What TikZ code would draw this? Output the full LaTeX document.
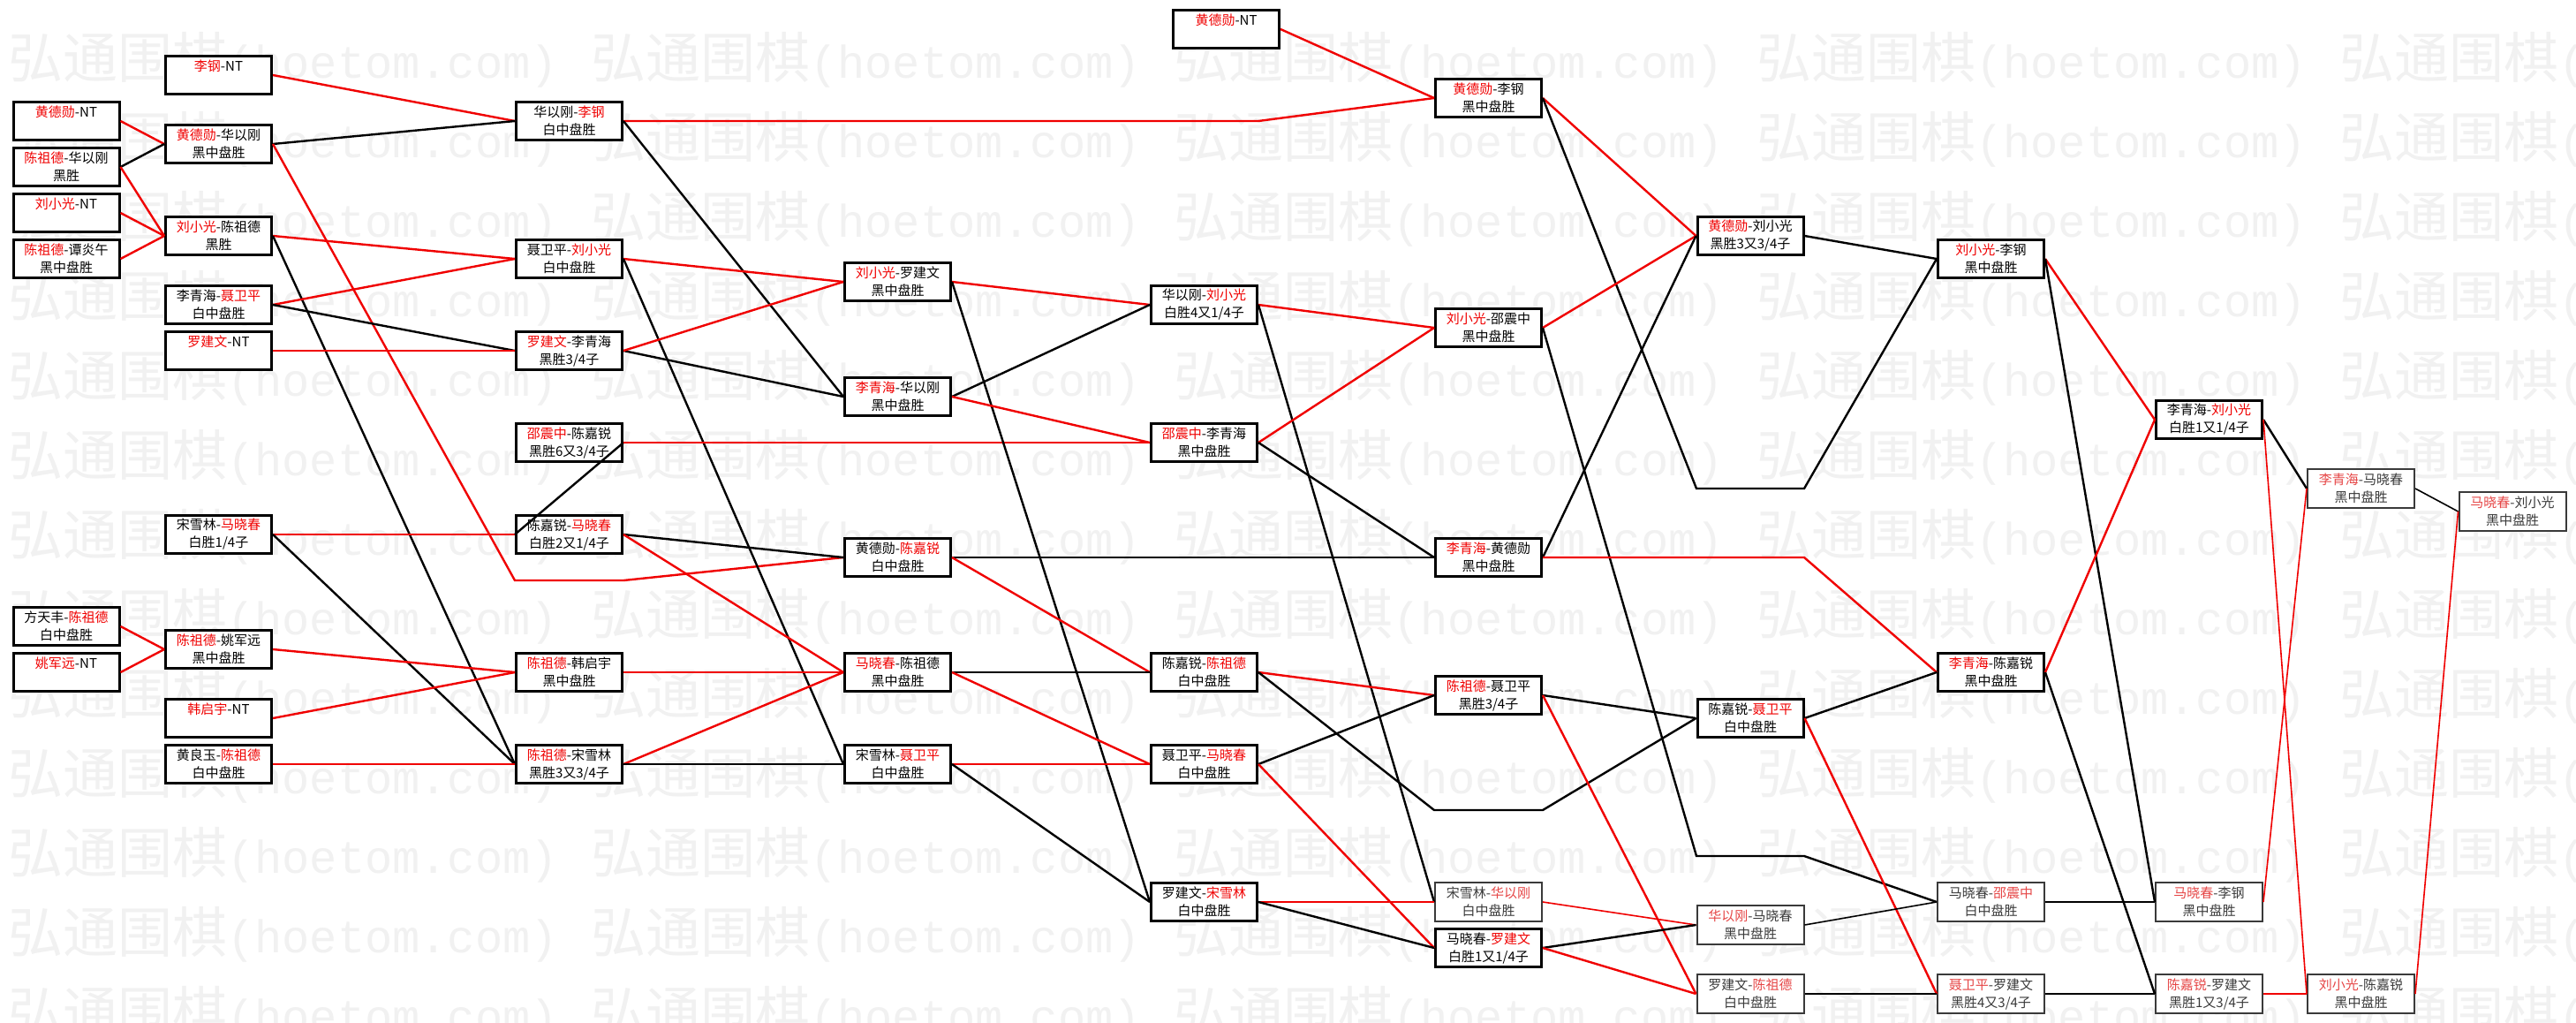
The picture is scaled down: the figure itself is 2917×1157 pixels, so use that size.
\documentclass[tikz,border=0pt]{standalone}
\usepackage{fontspec}
\setmainfont{Noto Sans CJK SC}
\newfontfamily\wmmono{Liberation Mono}
\definecolor{winred}{HTML}{F00000}
\definecolor{fadered}{HTML}{E64646}
\definecolor{fadeink}{HTML}{3A3A3A}
\definecolor{wmgray}{HTML}{F1F1F1}
\colorlet{namecol}{winred}
\newcommand{\wname}[1]{\textcolor{namecol}{#1}}

\begin{document}
\begin{tikzpicture}[x=1pt, y=-1pt,
  game/.style={draw=black, line width=3pt, fill=white, inner sep=0pt, align=center,
               minimum width=120pt, minimum height=43pt, font=\fontsize{15}{20}\selectfont},
  gamelt/.style={game, line width=2pt, draw=fadeink, text=fadeink,
                 minimum width=121pt, minimum height=44pt,
                 execute at begin node={\colorlet{namecol}{fadered}}},
  wline/.style={draw=winred, line width=2.4pt},
  lline/.style={draw=black, line width=2.4pt},
  slim/.style={line width=1.6pt},
  wmark/.style={text=wmgray, font=\fontsize{62}{62}\selectfont, inner sep=0pt, anchor=west}]
\useasboundingbox (0,0) rectangle (2917,1157);
\fill[white] (0,0) rectangle (2917,1157);
\begin{scope}
\clip (0,0) rectangle (2917,1157);
\foreach \r in {0,...,12}
  \foreach \c in {0,...,4}
    \node[wmark] (wm\r\c) at (9+660*\c, 68+90*\r) {弘通围棋{\wmmono\fontsize{52}{52}\selectfont(hoetom.com)}};
\end{scope}

\node[game] (A1) at (75,137) {\wname{黄德勋}-NT\\\phantom{黑}};
\node[game] (A2) at (75,189) {\wname{陈祖德}-华以刚\\黑胜};
\node[game] (A3) at (75,241) {\wname{刘小光}-NT\\\phantom{黑}};
\node[game] (A4) at (75,293) {\wname{陈祖德}-谭炎午\\黑中盘胜};
\node[game] (A5) at (75,709) {方天丰-\wname{陈祖德}\\白中盘胜};
\node[game] (A6) at (75,761) {\wname{姚军远}-NT\\\phantom{黑}};

\node[game] (B1) at (247.5,85) {\wname{李钢}-NT\\\phantom{黑}};
\node[game] (B2) at (247.5,163) {\wname{黄德勋}-华以刚\\黑中盘胜};
\node[game] (B3) at (247.5,267) {\wname{刘小光}-陈祖德\\黑胜};
\node[game] (B4) at (247.5,345) {李青海-\wname{聂卫平}\\白中盘胜};
\node[game] (B5) at (247.5,397) {\wname{罗建文}-NT\\\phantom{黑}};
\node[game] (B6) at (247.5,605) {宋雪林-\wname{马晓春}\\白胜1/4子};
\node[game] (B7) at (247.5,735) {\wname{陈祖德}-姚军远\\黑中盘胜};
\node[game] (B8) at (247.5,813) {\wname{韩启宇}-NT\\\phantom{黑}};
\node[game] (B9) at (247.5,865) {黄良玉-\wname{陈祖德}\\白中盘胜};

\node[game] (C1) at (644.5,137) {华以刚-\wname{李钢}\\白中盘胜};
\node[game] (C2) at (644.5,293) {聂卫平-\wname{刘小光}\\白中盘胜};
\node[game] (C3) at (644.5,397) {\wname{罗建文}-李青海\\黑胜3/4子};
\node[game] (C4) at (644.5,501) {\wname{邵震中}-陈嘉锐\\黑胜6又3/4子};
\node[game] (C5) at (644.5,605) {陈嘉锐-\wname{马晓春}\\白胜2又1/4子};
\node[game] (C6) at (644.5,761) {\wname{陈祖德}-韩启宇\\黑中盘胜};
\node[game] (C7) at (644.5,865) {\wname{陈祖德}-宋雪林\\黑胜3又3/4子};

\node[game] (D1) at (1016.5,319) {\wname{刘小光}-罗建文\\黑中盘胜};
\node[game] (D2) at (1016.5,449) {\wname{李青海}-华以刚\\黑中盘胜};
\node[game] (D3) at (1016.5,631) {黄德勋-\wname{陈嘉锐}\\白中盘胜};
\node[game] (D4) at (1016.5,761) {\wname{马晓春}-陈祖德\\黑中盘胜};
\node[game] (D5) at (1016.5,865) {宋雪林-\wname{聂卫平}\\白中盘胜};

\node[game] (E0) at (1388.5,33) {\wname{黄德勋}-NT\\\phantom{黑}};
\node[game] (E1) at (1363.5,345) {华以刚-\wname{刘小光}\\白胜4又1/4子};
\node[game] (E2) at (1363.5,501) {\wname{邵震中}-李青海\\黑中盘胜};
\node[game] (E3) at (1363.5,761) {陈嘉锐-\wname{陈祖德}\\白中盘胜};
\node[game] (E4) at (1363.5,865) {聂卫平-\wname{马晓春}\\白中盘胜};
\node[game] (E5) at (1363.5,1021) {罗建文-\wname{宋雪林}\\白中盘胜};

\node[game] (F1) at (1685.5,111) {\wname{黄德勋}-李钢\\黑中盘胜};
\node[game] (F2) at (1685.5,371) {\wname{刘小光}-邵震中\\黑中盘胜};
\node[game] (F3) at (1685.5,631) {\wname{李青海}-黄德勋\\黑中盘胜};
\node[game] (F4) at (1685.5,787) {\wname{陈祖德}-聂卫平\\黑胜3/4子};
\node[gamelt] (F5) at (1685.5,1021) {宋雪林-\wname{华以刚}\\白中盘胜};
\node[game] (F6) at (1685.5,1073) {马晓春-\wname{罗建文}\\白胜1又1/4子};

\node[game] (G1) at (1982,267) {\wname{黄德勋}-刘小光\\黑胜3又3/4子};
\node[game] (G2) at (1982,813) {陈嘉锐-\wname{聂卫平}\\白中盘胜};
\node[gamelt] (G3) at (1982,1047) {\wname{华以刚}-马晓春\\黑中盘胜};
\node[gamelt] (G4) at (1982,1125) {罗建文-\wname{陈祖德}\\白中盘胜};

\node[game] (H1) at (2254.5,293) {\wname{刘小光}-李钢\\黑中盘胜};
\node[game] (H2) at (2254.5,761) {\wname{李青海}-陈嘉锐\\黑中盘胜};
\node[gamelt] (H3) at (2254.5,1021) {马晓春-\wname{邵震中}\\白中盘胜};
\node[gamelt] (H4) at (2254.5,1125) {\wname{聂卫平}-罗建文\\黑胜4又3/4子};

\node[game] (I1) at (2501.5,475) {李青海-\wname{刘小光}\\白胜1又1/4子};
\node[gamelt] (I2) at (2501.5,1021) {\wname{马晓春}-李钢\\黑中盘胜};
\node[gamelt] (I3) at (2501.5,1125) {\wname{陈嘉锐}-罗建文\\黑胜1又3/4子};

\node[gamelt] (J1) at (2673.5,553) {\wname{李青海}-马晓春\\黑中盘胜};
\node[gamelt] (J2) at (2673.5,1125) {\wname{刘小光}-陈嘉锐\\黑中盘胜};

\node[gamelt] (K1) at (2845,579) {\wname{马晓春}-刘小光\\黑中盘胜};

\draw[wline] (A1.east) -- (B2.west);
\draw[lline] (A2.east) -- (B2.west);
\draw[wline] (A2.east) -- (B3.west);
\draw[wline] (A3.east) -- (B3.west);
\draw[wline] (A4.east) -- (B3.west);
\draw[wline] (A5.east) -- (B7.west);
\draw[wline] (A6.east) -- (B7.west);

\draw[wline] (B1.east) -- (C1.west);
\draw[lline] (B2.east) -- (C1.west);
\draw[wline] (B2.east) -- (583,657) -- (706,657) -- (D3.west);
\draw[wline] (B3.east) -- (C2.west);
\draw[lline] (B3.east) -- (C7.west);
\draw[wline] (B4.east) -- (C2.west);
\draw[lline] (B4.east) -- (C3.west);
\draw[wline] (B5.east) -- (C3.west);
\draw[wline] (B6.east) -- (C5.west);
\draw[lline] (B6.east) -- (C7.west);
\draw[wline] (B7.east) -- (C6.west);
\draw[wline] (B8.east) -- (C6.west);
\draw[wline] (B9.east) -- (C7.west);
\draw[lline] (C4.east) -- (C5.west);

\draw[wline] (C1.east) -- (1425,137) -- (F1.west);
\draw[lline] (C1.east) -- (D2.west);
\draw[wline] (C2.east) -- (D1.west);
\draw[lline] (C2.east) -- (D5.west);
\draw[lline] (C3.east) -- (D2.west);
\draw[wline] (C3.east) -- (D1.west);
\draw[wline] (C4.east) -- (E2.west);
\draw[lline] (C5.east) -- (D3.west);
\draw[wline] (C5.east) -- (D4.west);
\draw[wline] (C6.east) -- (D4.west);
\draw[wline] (C7.east) -- (D4.west);
\draw[lline] (C7.east) -- (D5.west);

\draw[wline] (D1.east) -- (E1.west);
\draw[lline] (D1.east) -- (E5.west);
\draw[lline] (D2.east) -- (E1.west);
\draw[wline] (D2.east) -- (E2.west);
\draw[lline] (D3.east) -- (F3.west);
\draw[wline] (D3.east) -- (E3.west);
\draw[lline] (D4.east) -- (E3.west);
\draw[wline] (D4.east) -- (E4.west);
\draw[wline] (D5.east) -- (E4.west);
\draw[lline] (D5.east) -- (E5.west);

\draw[wline] (E0.east) -- (F1.west);
\draw[wline] (E1.east) -- (F2.west);
\draw[lline] (E1.east) -- (F5.west);
\draw[wline] (E2.east) -- (F2.west);
\draw[lline] (E2.east) -- (F3.west);
\draw[wline] (E3.east) -- (F4.west);
\draw[lline] (E3.east) -- (1624,917) -- (1747,917) -- (G2.west);
\draw[lline] (E4.east) -- (F4.west);
\draw[wline] (E4.east) -- (F6.west);
\draw[wline] (E5.east) -- (F5.west);
\draw[lline] (E5.east) -- (F6.west);

\draw[wline] (F1.east) -- (G1.west);
\draw[lline] (F1.east) -- (1921,553) -- (2043,553) -- (H1.west);
\draw[wline] (F2.east) -- (G1.west);
\draw[lline] (F2.east) -- (1921,969) -- (2043,969) -- (H3.west);
\draw[lline] (F3.east) -- (G1.west);
\draw[wline] (F3.east) -- (2043,631) -- (H2.west);
\draw[lline] (F4.east) -- (G2.west);
\draw[wline] (F4.east) -- (G4.west);
\draw[wline, slim] (F5.east) -- (G3.west);
\draw[lline] (F6.east) -- (G3.west);
\draw[wline] (F6.east) -- (G4.west);

\draw[lline] (G1.east) -- (H1.west);
\draw[lline] (G2.east) -- (H2.west);
\draw[wline] (G2.east) -- (H4.west);
\draw[lline, slim] (G3.east) -- (H3.west);
\draw[lline, slim] (G4.east) -- (H4.west);

\draw[wline] (H1.east) -- (I1.west);
\draw[lline] (H1.east) -- (I2.west);
\draw[wline] (H2.east) -- (I1.west);
\draw[lline] (H2.east) -- (I3.west);
\draw[lline, slim] (H3.east) -- (I2.west);
\draw[lline, slim] (H4.east) -- (I3.west);

\draw[lline] (I1.east) -- (J1.west);
\draw[wline, slim] (I1.east) -- (J2.west);
\draw[wline, slim] (I2.east) -- (J1.west);
\draw[wline, slim] (I3.east) -- (J2.west);
\draw[lline, slim] (J1.east) -- (K1.west);
\draw[wline, slim] (J2.east) -- (K1.west);
\end{tikzpicture}
\end{document}
